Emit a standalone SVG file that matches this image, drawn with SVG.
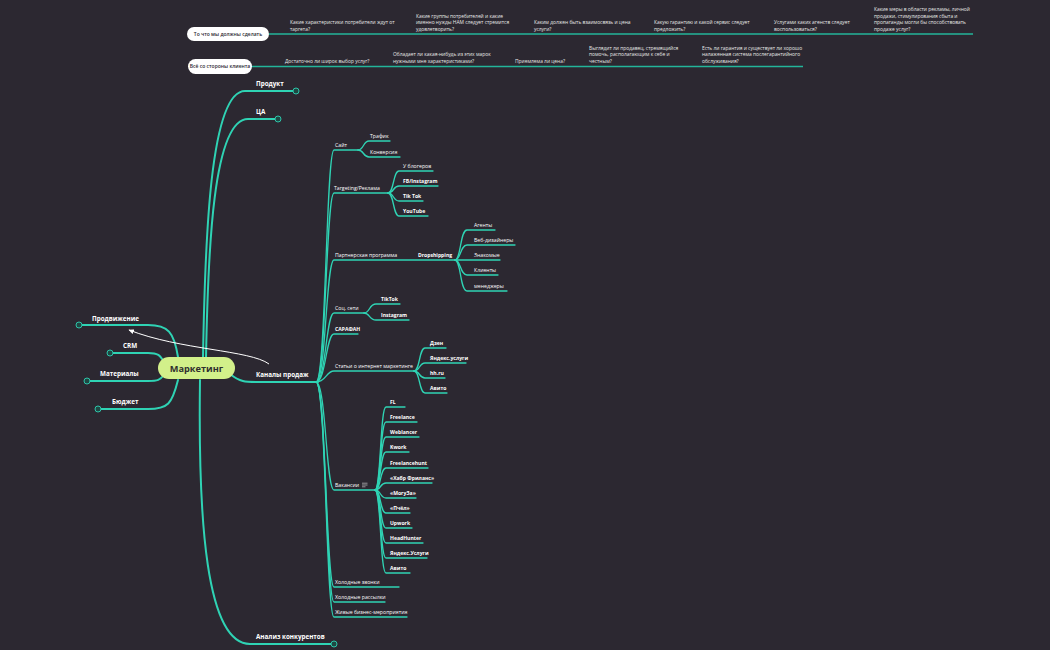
<svg xmlns="http://www.w3.org/2000/svg" width="1050" height="650" viewBox="0 0 1050 650">
<defs>
<style>
.q{font-family:'Open Sans',sans-serif;font-size:4.9px;fill:#e8e8e8}
.s{font-family:'Open Sans',sans-serif;font-size:5.2px;fill:#ffffff}
.sb{font-family:'Open Sans',sans-serif;font-size:5.1px;fill:#ffffff;font-weight:700}
.m{font-family:'Open Sans',sans-serif;font-size:6.3px;fill:#ffffff;font-weight:700}
.pt{font-family:'Open Sans',sans-serif;font-size:5px;fill:#2c2831;font-weight:600;text-anchor:middle}
.c{fill:none;stroke:#2fd3b4;stroke-width:1.3;stroke-linecap:round}
.cm{fill:none;stroke:#2fd3b4;stroke-width:2;stroke-linecap:round}
.top{stroke:#23b59a;stroke-width:1.6}
.dot{fill:#1e4843;stroke:#2fd3b4;stroke-width:0.9}
</style>
<marker id="ah" viewBox="0 0 10 10" refX="8" refY="5" markerWidth="6" markerHeight="6" orient="auto">
<path d="M0,1 L9,5 L0,9 z" fill="#ffffff"/>
</marker>
</defs>
<rect x="0" y="0" width="1050" height="650" fill="#2c2831"/>

<g id="top-row-1">
<line class="top" x1="269" y1="34" x2="973" y2="34"/>
<rect x="187" y="27" width="82" height="14" rx="7" fill="#ffffff"/>
<text class="pt" x="228" y="35.8">То что мы должны сделать</text>
<text class="q" x="290" y="24">Какие характеристики потребители ждут от<tspan x="290" y="30.5">таргета?</tspan></text>
<text class="q" x="416" y="17.5">Какие группы потребителей и какие<tspan x="416" y="24">именно нужды НАМ следует стремится</tspan><tspan x="416" y="30.5">удовлетворить?</tspan></text>
<text class="q" x="534" y="24">Каким должен быть взаимосвязь и цена<tspan x="534" y="30.5">услуги?</tspan></text>
<text class="q" x="654" y="24">Какую гарантию и какой сервис следует<tspan x="654" y="30.5">предложить?</tspan></text>
<text class="q" x="774" y="24">Услугами каких агенств следует<tspan x="774" y="30.5">воспользоваться?</tspan></text>
<text class="q" x="874" y="11">Какие меры в области рекламы, личной<tspan x="874" y="17.5">продажи, стимулирования сбыта и</tspan><tspan x="874" y="24">пропаганды могли бы способствовать</tspan><tspan x="874" y="30.5">продаже услуг?</tspan></text>
</g>

<g id="top-row-2">
<line class="top" x1="252" y1="66.5" x2="803" y2="66.5"/>
<rect x="188" y="59" width="64" height="15" rx="7.5" fill="#ffffff"/>
<text class="pt" x="220" y="68.3">Всё со стороны клиента</text>
<text class="q" x="285" y="62.5">Достаточно ли широк выбор услуг?</text>
<text class="q" x="393" y="56">Обладает ли какая-нибудь из этих марок<tspan x="393" y="62.5">нужными мне характеристиками?</tspan></text>
<text class="q" x="515" y="62.5">Приемлема ли цена?</text>
<text class="q" x="589" y="49.5">Выглядит ли продавец, стремящийся<tspan x="589" y="56">помочь, располагающим к себе и</tspan><tspan x="589" y="62.5">честным?</tspan></text>
<text class="q" x="702" y="49.5">Есть ли гарантия и существует ли хорошо<tspan x="702" y="56">налаженная система послегарантийного</tspan><tspan x="702" y="62.5">обслуживания?</tspan></text>
</g>

<g id="connectors">
<path class="cm" d="M203 358 C205 240 210 91 245 91 L293 91"/>
<path class="cm" d="M206 358 C208 250 213 119 248 119 L275 119"/>
<path class="cm" d="M200 380 C198 520 206 644 250 644 L331 644"/>
<path class="cm" d="M230 374 C240 382 245 382 258 382 L318 382"/>
<path class="cm" d="M178 357 C174 332 168 325 148 325 L82 325"/>
<path class="cm" d="M164 362 C160 355 158 353 148 353 L113 353"/>
<path class="cm" d="M164 375 C160 380 158 381 148 381 L90 381"/>
<path class="cm" d="M178 380 C172 404 168 409 148 409 L101 409"/>

<path class="c" d="M316 382 C326 382 326 150 334 150 L358 150"/>
<path class="c" d="M316 382 C326 382 326 193 334 193 L388 193"/>
<path class="c" d="M316 382 C326 382 326 260 334 260 L455 260"/>
<path class="c" d="M316 382 C326 382 326 313 334 313 L364 313"/>
<path class="c" d="M316 382 C326 382 326 334 334 334 L358 334"/>
<path class="c" d="M316 382 C326 382 326 371 334 371 L414 371"/>
<path class="c" d="M316 382 C326 382 326 490 334 490 L375 490"/>
<path class="c" d="M316 382 C326 382 326 587 334 587 L399 587"/>
<path class="c" d="M316 382 C326 382 326 602 334 602 L385 602"/>
<path class="c" d="M316 382 C326 382 326 617 334 617 L407 617"/>

<path class="c" d="M358 150 C364 150 363 141 369 141 L390 141"/>
<path class="c" d="M358 150 C364 150 363 157 369 157 L400 157"/>

<path class="c" d="M388 193 C394 193 393 171 399 171 L433 171"/>
<path class="c" d="M388 193 C394 193 393 186 399 186 L438 186"/>
<path class="c" d="M388 193 C394 193 393 201 399 201 L423 201"/>
<path class="c" d="M388 193 C394 193 393 216 399 216 L428 216"/>

<path class="c" d="M455 260 C461 260 460 230 467 230 L495 230"/>
<path class="c" d="M455 260 C461 260 460 245 467 245 L515 245"/>
<path class="c" d="M455 260 C461 260 460 260 467 260 L500 260"/>
<path class="c" d="M455 260 C461 260 460 275 467 275 L498 275"/>
<path class="c" d="M455 260 C461 260 460 291 467 291 L507 291"/>

<path class="c" d="M364 313 C370 313 369 304 376 304 L400 304"/>
<path class="c" d="M364 313 C370 313 369 320 376 320 L409 320"/>

<path class="c" d="M414 371 C420 371 419 348 425 348 L446 348"/>
<path class="c" d="M414 371 C420 371 419 363 425 363 L466 363"/>
<path class="c" d="M414 371 C420 371 419 378 425 378 L445 378"/>
<path class="c" d="M414 371 C420 371 419 393 425 393 L447 393"/>

<path class="c" d="M375 490 C381 490 380 407 386 407 L405 407"/>
<path class="c" d="M375 490 C381 490 380 422 386 422 L417 422"/>
<path class="c" d="M375 490 C381 490 380 437 386 437 L419 437"/>
<path class="c" d="M375 490 C381 490 380 452 386 452 L409 452"/>
<path class="c" d="M375 490 C381 490 380 468 386 468 L428 468"/>
<path class="c" d="M375 490 C381 490 380 483 386 483 L432 483"/>
<path class="c" d="M375 490 C381 490 380 498 386 498 L416 498"/>
<path class="c" d="M375 490 C381 490 380 513 386 513 L410 513"/>
<path class="c" d="M375 490 C381 490 380 528 386 528 L412 528"/>
<path class="c" d="M375 490 C381 490 380 543 386 543 L423 543"/>
<path class="c" d="M375 490 C381 490 380 558 386 558 L427 558"/>
<path class="c" d="M375 490 C381 490 380 573 386 573 L410 573"/>

<path d="M269 364 C250 350 180 350 129 330" fill="none" stroke="#ffffff" stroke-width="1" marker-end="url(#ah)"/>
</g>

<g id="node-marketing">
<rect x="158" y="357" width="77" height="22" rx="11" fill="#d2f08a"/>
<text x="196.5" y="371.5" text-anchor="middle" font-family="'Open Sans',sans-serif" font-size="9.2" font-weight="700" fill="#2f2f2f">Маркетинг</text>
</g>
<g id="node-product"><text class="m" x="256" y="85.5">Продукт</text><circle class="dot" cx="296" cy="91" r="3"/></g>
<g id="node-ca"><text class="m" x="256" y="113.5">ЦА</text><circle class="dot" cx="278" cy="119" r="3"/></g>
<g id="node-analysis"><text class="m" x="256" y="638.5">Анализ конкурентов</text><circle class="dot" cx="334" cy="644" r="3"/></g>
<g id="node-promo"><text class="m" x="92" y="320.5">Продвижение</text><circle class="dot" cx="79" cy="325" r="3"/></g>
<g id="node-crm"><text class="m" x="123" y="348">CRM</text><circle class="dot" cx="110" cy="353" r="3"/></g>
<g id="node-materials"><text class="m" x="100" y="376">Материалы</text><circle class="dot" cx="87" cy="381" r="3"/></g>
<g id="node-budget"><text class="m" x="112" y="404">Бюджет</text><circle class="dot" cx="98" cy="409" r="3"/></g>
<g id="node-channels"><text class="m" x="256" y="377">Каналы продаж</text></g>

<g id="node-site"><text class="s" x="335" y="146.5">Сайт</text></g>
<g id="node-traffic"><text class="s" x="370" y="137.5">Трафик</text></g>
<g id="node-conversion"><text class="s" x="370" y="153.5">Конверсия</text></g>
<g id="node-targeting"><text class="s" x="334" y="189.5">Targeting/Реклама</text></g>
<g id="node-bloggers"><text class="s" x="403" y="167.5">У блогеров</text></g>
<g id="node-fb"><text class="sb" x="403" y="182.5">FB/Instagram</text></g>
<g id="node-tiktok1"><text class="sb" x="403" y="197.5">Tik Tok</text></g>
<g id="node-youtube"><text class="sb" x="403" y="212.5">YouTube</text></g>
<g id="node-partner"><text class="s" x="335" y="256.5">Партнерская программа</text></g>
<g id="node-dropshipping"><text class="sb" x="418" y="256.5">Dropshipping</text></g>
<g id="node-agents"><text class="s" x="474" y="226.5">Агенты</text></g>
<g id="node-webdesigners"><text class="s" x="474" y="241.5">Веб-дизайнеры</text></g>
<g id="node-friends"><text class="s" x="474" y="256.5">Знакомые</text></g>
<g id="node-clients"><text class="s" x="474" y="271.5">Клиенты</text></g>
<g id="node-managers"><text class="s" x="474" y="287.5">менеджеры</text></g>
<g id="node-social"><text class="s" x="335" y="309.5">Соц. сети</text></g>
<g id="node-tiktok2"><text class="sb" x="381" y="300.5">TikTok</text></g>
<g id="node-instagram"><text class="sb" x="381" y="316.5">Instagram</text></g>
<g id="node-sarafan"><text class="sb" x="335" y="330.5">САРАФАН</text></g>
<g id="node-articles"><text class="s" x="335" y="367.5">Статьи о интернет маркетинге</text></g>
<g id="node-dzen"><text class="sb" x="430" y="344.5">Дзен</text></g>
<g id="node-yandex1"><text class="sb" x="430" y="359.5">Яндекс.услуги</text></g>
<g id="node-hh1"><text class="sb" x="430" y="374.5">hh.ru</text></g>
<g id="node-avito1"><text class="sb" x="430" y="389.5">Авито</text></g>
<g id="node-vacancies"><text class="s" x="335" y="486.5">Вакансии</text>
<path d="M362 483.2 H367.5 M362 485 H367.5 M362 486.8 H365.5" stroke="#dddddd" stroke-width="0.6"/></g>
<g id="node-fl"><text class="sb" x="390" y="403.5">FL</text></g>
<g id="node-freelance"><text class="sb" x="390" y="418.5">Freelance</text></g>
<g id="node-weblancer"><text class="sb" x="390" y="433.5">Weblancer</text></g>
<g id="node-kwork"><text class="sb" x="390" y="448.5">Kwork</text></g>
<g id="node-freelancehunt"><text class="sb" x="390" y="464.5">Freelancehunt</text></g>
<g id="node-habr"><text class="sb" x="390" y="479.5">«Хабр Фриланс»</text></g>
<g id="node-moryza"><text class="sb" x="390" y="494.5">«MoryЗа»</text></g>
<g id="node-pchel"><text class="sb" x="390" y="509.5">«Пчёл»</text></g>
<g id="node-upwork"><text class="sb" x="390" y="524.5">Upwork</text></g>
<g id="node-headhunter"><text class="sb" x="390" y="539.5">HeadHunter</text></g>
<g id="node-yandex2"><text class="sb" x="390" y="554.5">Яндекс.Услуги</text></g>
<g id="node-avito2"><text class="sb" x="390" y="569.5">Авито</text></g>
<g id="node-cold-calls"><text class="s" x="335" y="583.5">Холодные звонки</text></g>
<g id="node-cold-mail"><text class="s" x="335" y="598.5">Холодные рассылки</text></g>
<g id="node-events"><text class="s" x="335" y="613.5">Живые бизнес-мероприятия</text></g>
</svg>
